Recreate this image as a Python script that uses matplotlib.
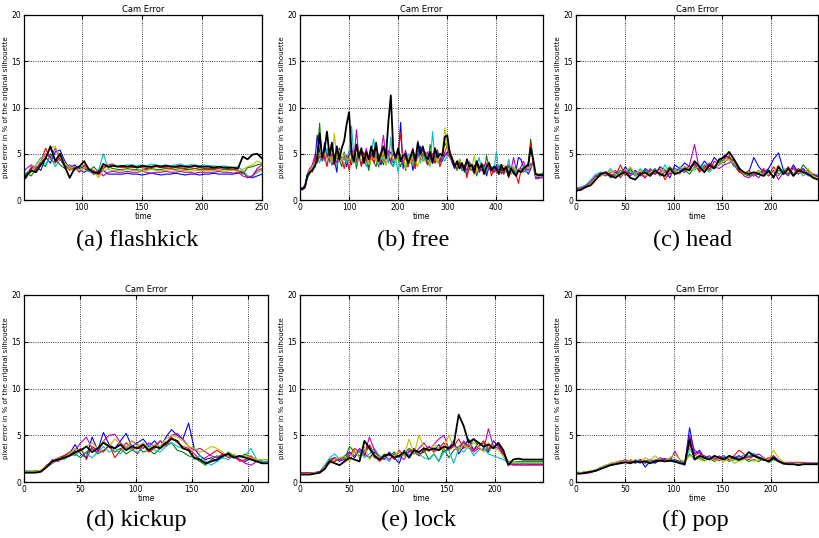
import numpy as np
import matplotlib
matplotlib.use("Agg")
import matplotlib.pyplot as plt

# colours in the order the curves were drawn
colors = ["b", "g", "r", "c", "m", "y", "k"]

# ---------------- (a) flashkick, frames 50..250 ----------------
flashkick_range = (50, 250)
flashkick_b = [2.0, 2.8, 3.4, 3.6, 3.2, 4.6, 4.0, 5.2, 5.4, 4.2, 3.4, 3.8, 3.4, 3.6, 3.2, 2.8, 2.9, 3.2, 2.8, 2.8,
               2.8, 2.8, 2.9, 2.8, 2.8, 2.7, 2.8, 2.9, 2.8, 2.7, 2.8, 2.8, 2.9, 2.8, 2.7, 2.8, 2.8, 2.7, 2.8, 2.8,
               2.9, 2.8, 2.8, 2.8, 2.8, 2.9, 3.0, 2.5, 2.4, 2.6, 2.8]
flashkick_g = [1.9, 2.9, 2.6, 3.4, 4.0, 3.6, 5.0, 4.4, 3.8, 3.4, 3.6, 3.2, 3.7, 3.4, 3.1, 3.6, 3.0, 3.6, 3.6, 3.4,
               3.3, 3.3, 3.4, 3.3, 3.3, 3.2, 3.3, 3.4, 3.3, 3.3, 3.4, 3.3, 3.3, 3.4, 3.3, 3.3, 3.4, 3.3, 3.3, 3.3,
               3.3, 3.2, 3.3, 3.3, 3.3, 3.2, 2.8, 3.5, 3.6, 3.8, 3.9]
flashkick_r = [2.2, 2.4, 3.6, 3.2, 4.2, 5.6, 4.4, 4.0, 4.6, 3.8, 3.2, 3.6, 3.0, 3.8, 3.4, 3.2, 2.7, 3.4, 3.8, 3.9,
               3.6, 3.5, 3.6, 3.5, 3.6, 3.5, 3.4, 3.5, 3.6, 3.5, 3.5, 3.4, 3.5, 3.5, 3.4, 3.5, 3.4, 3.5, 3.4, 3.4,
               3.4, 3.4, 3.5, 3.4, 3.3, 3.2, 3.0, 2.5, 2.6, 3.2, 3.4]
flashkick_c = [2.4, 3.0, 3.2, 3.8, 4.6, 3.8, 4.8, 3.6, 4.4, 3.8, 3.6, 3.4, 3.6, 3.0, 3.2, 2.8, 3.2, 5.0, 3.4, 3.8,
               3.7, 3.7, 3.8, 3.8, 3.7, 3.8, 3.7, 3.9, 3.8, 3.7, 3.8, 3.7, 3.8, 3.9, 3.7, 3.8, 3.8, 3.7, 3.8, 3.7,
               3.7, 3.6, 3.7, 3.6, 3.5, 3.6, 3.2, 2.6, 2.5, 3.0, 3.2]
flashkick_m = [2.8, 3.4, 3.8, 3.4, 3.8, 5.0, 4.6, 5.6, 4.4, 3.6, 3.8, 3.5, 3.2, 3.0, 3.4, 2.8, 3.2, 2.6, 3.0, 3.1,
               3.0, 3.0, 3.1, 3.0, 3.0, 3.1, 3.0, 2.9, 3.0, 3.0, 3.1, 3.0, 3.0, 3.1, 3.0, 3.0, 2.9, 3.0, 3.0, 3.0,
               3.0, 3.1, 3.0, 3.0, 2.9, 3.0, 2.6, 2.4, 2.6, 3.4, 3.8]
flashkick_y = [2.0, 2.6, 3.0, 3.8, 4.2, 4.8, 5.6, 5.8, 4.6, 4.0, 3.4, 3.6, 3.2, 3.5, 3.4, 3.0, 2.4, 3.2, 3.3, 3.2,
               3.2, 3.2, 3.3, 3.2, 3.2, 3.1, 3.2, 3.3, 3.2, 3.2, 3.2, 3.3, 3.2, 3.2, 3.2, 3.1, 3.2, 3.2, 3.2, 3.2,
               3.2, 3.2, 3.1, 3.2, 3.2, 3.1, 3.3, 3.6, 3.8, 4.2, 4.0]
flashkick_k = [1.8, 2.6, 3.2, 3.0, 3.8, 4.5, 5.8, 4.2, 5.0, 3.6, 2.4, 3.4, 3.6, 4.2, 3.3, 3.0, 2.9, 3.9, 3.6, 3.7,
               3.6, 3.7, 3.6, 3.7, 3.5, 3.7, 3.6, 3.6, 3.7, 3.6, 3.7, 3.6, 3.6, 3.7, 3.6, 3.6, 3.7, 3.6, 3.6, 3.6,
               3.5, 3.6, 3.5, 3.5, 3.5, 3.4, 4.7, 4.4, 4.9, 5.0, 4.5]

# ---------------- (b) free, frames 0..495 ----------------
free_range = (0, 495)
free_b = [1.1, 1.1, 1.3, 2.4, 3.0, 3.4, 4.0, 7.0, 5.2, 4.4, 6.2, 4.6, 5.0, 3.8, 4.4, 3.0, 5.6, 4.2, 4.8, 3.6,
          4.8, 5.6, 4.0, 4.4, 5.2, 3.8, 4.6, 5.0, 3.6, 4.8, 5.4, 4.2, 4.6, 3.8, 5.0, 4.4, 4.8, 5.2, 4.0, 4.6,
          4.6, 8.4, 3.4, 5.2, 3.6, 4.8, 3.2, 4.4, 5.0, 5.8, 4.2, 4.8, 3.8, 5.2, 4.4, 4.0, 5.0, 4.6, 4.2, 4.8,
          5.2, 4.8, 4.0, 3.4, 3.8, 4.2, 3.2, 3.6, 2.8, 3.4, 3.6, 3.2, 4.0, 3.0, 3.4, 3.8, 2.6, 3.6, 3.2, 3.0,
          3.8, 3.2, 3.4, 2.8, 3.6, 3.0, 3.4, 2.8, 3.2, 4.6, 4.4, 3.6, 3.2, 2.8, 3.4, 4.2, 2.4, 2.4, 2.5, 2.5]
free_g = [1.2, 1.3, 1.5, 2.8, 3.2, 3.6, 4.2, 4.8, 8.3, 4.4, 4.6, 5.4, 4.2, 5.0, 3.8, 4.8, 4.4, 3.6, 5.2, 4.0,
          4.6, 3.8, 5.2, 3.4, 4.8, 5.4, 4.0, 4.4, 3.2, 4.6, 4.2, 3.6, 5.0, 4.4, 3.8, 5.2, 4.6, 4.0, 3.6, 4.8,
          4.4, 3.6, 4.8, 3.2, 4.6, 4.0, 5.0, 3.4, 6.4, 4.6, 5.0, 4.4, 3.8, 6.0, 4.6, 4.2, 5.4, 4.0, 4.8, 6.2,
          5.6, 4.6, 4.2, 3.8, 3.2, 4.4, 3.6, 3.0, 4.2, 3.4, 3.2, 3.8, 2.6, 3.6, 4.0, 3.0, 4.8, 3.4, 3.2, 3.6,
          3.2, 3.8, 2.8, 3.4, 3.0, 3.6, 2.8, 3.4, 3.0, 3.2, 3.4, 3.2, 3.6, 4.0, 6.6, 4.2, 2.8, 2.8, 2.8, 2.9]
free_r = [1.3, 1.3, 1.6, 2.6, 3.4, 3.0, 4.4, 4.0, 5.0, 4.2, 4.8, 3.6, 5.4, 4.4, 3.8, 5.0, 4.2, 4.6, 3.4, 4.8,
          3.2, 4.6, 5.4, 4.0, 4.8, 3.6, 5.2, 4.4, 3.8, 5.0, 4.0, 4.8, 3.6, 4.4, 5.2, 3.8, 4.6, 4.2, 5.0, 4.4,
          5.2, 7.2, 4.0, 4.6, 3.6, 4.8, 4.2, 3.4, 5.0, 4.4, 4.6, 5.2, 3.8, 4.4, 5.0, 4.0, 4.8, 3.6, 4.4, 5.2,
          5.8, 5.4, 4.6, 3.8, 3.4, 4.0, 3.2, 3.8, 2.4, 3.6, 3.4, 2.8, 3.6, 3.2, 4.0, 3.4, 3.0, 3.8, 2.6, 3.4,
          3.0, 3.6, 3.2, 2.8, 3.4, 2.4, 3.2, 3.6, 2.8, 1.8, 3.2, 3.0, 3.4, 3.6, 6.2, 3.8, 2.6, 2.6, 2.6, 2.6]
free_c = [1.2, 1.2, 1.4, 2.4, 2.8, 3.4, 3.8, 4.6, 4.0, 5.0, 4.2, 5.6, 4.0, 4.8, 4.4, 3.6, 5.0, 4.2, 4.6, 4.0,
          5.4, 8.0, 4.4, 3.8, 5.0, 4.2, 4.8, 3.6, 4.6, 5.2, 6.6, 4.4, 3.8, 5.0, 4.2, 5.6, 4.0, 6.8, 3.6, 4.4,
          3.0, 4.8, 4.2, 3.6, 5.0, 4.4, 3.8, 4.6, 5.2, 4.0, 4.8, 4.2, 5.0, 3.6, 7.4, 4.4, 4.0, 5.0, 4.6, 4.2,
          4.8, 5.0, 4.4, 3.8, 3.6, 4.4, 3.2, 3.6, 3.0, 4.2, 3.6, 3.2, 3.8, 4.6, 3.2, 3.6, 3.0, 4.0, 3.4, 3.2,
          5.2, 3.0, 3.6, 3.4, 3.0, 4.4, 3.2, 3.6, 2.8, 3.4, 3.2, 3.6, 3.0, 3.4, 4.0, 3.6, 2.6, 2.6, 2.7, 2.7]
free_m = [1.3, 1.3, 1.5, 2.8, 3.4, 3.8, 4.8, 4.2, 4.6, 5.2, 4.4, 5.0, 4.2, 5.8, 4.6, 4.0, 5.4, 4.2, 5.0, 4.6,
          4.8, 5.4, 4.4, 7.6, 4.6, 5.2, 4.0, 5.6, 4.4, 5.0, 4.6, 5.8, 4.2, 5.2, 7.0, 4.6, 5.4, 4.0, 5.0, 4.4,
          5.2, 4.6, 4.0, 5.4, 3.8, 4.8, 5.6, 4.2, 5.0, 4.6, 5.4, 4.8, 5.2, 4.4, 5.0, 4.6, 5.4, 4.2, 5.0, 4.8,
          5.0, 4.6, 4.4, 4.0, 3.6, 4.2, 3.4, 3.8, 3.2, 4.0, 3.8, 3.4, 4.2, 3.6, 3.2, 3.8, 4.0, 3.4, 3.6, 3.0,
          3.6, 3.2, 3.8, 3.0, 3.4, 3.8, 3.2, 4.6, 3.4, 3.0, 3.6, 4.2, 3.4, 3.2, 3.8, 4.0, 2.3, 2.3, 2.4, 2.4]
free_y = [1.2, 1.2, 1.4, 2.6, 3.2, 3.6, 4.0, 4.4, 5.0, 4.6, 5.2, 4.4, 4.8, 4.0, 7.2, 4.6, 5.4, 4.2, 5.0, 4.4,
          4.4, 5.2, 4.0, 4.8, 5.4, 4.2, 4.6, 5.0, 3.8, 4.4, 5.0, 4.2, 4.8, 4.4, 5.2, 3.8, 4.6, 5.0, 4.4, 4.2,
          4.8, 4.2, 5.0, 3.4, 4.6, 4.0, 5.2, 4.4, 3.6, 4.8, 4.2, 5.0, 4.4, 3.8, 4.6, 5.4, 4.0, 4.8, 5.2, 7.8,
          5.6, 4.8, 4.2, 4.0, 3.6, 4.4, 3.8, 3.2, 4.2, 3.6, 3.4, 4.8, 3.2, 3.8, 3.4, 3.0, 3.8, 4.2, 3.2, 3.6,
          3.4, 3.0, 3.6, 3.8, 3.2, 3.4, 2.8, 3.6, 3.2, 3.4, 3.0, 3.4, 3.8, 3.4, 3.6, 3.8, 2.6, 2.6, 2.6, 2.6]
free_k = [1.2, 1.2, 1.4, 2.6, 3.0, 3.2, 3.6, 4.4, 7.2, 4.6, 5.4, 7.4, 4.8, 6.2, 4.0, 5.8, 4.4, 5.6, 6.4, 8.2,
          9.5, 5.0, 4.2, 6.0, 4.6, 5.6, 4.0, 5.2, 4.4, 5.8, 4.6, 6.2, 4.2, 5.0, 5.8, 4.6, 8.4, 11.3, 5.4, 4.6,
          5.6, 4.2, 4.8, 5.0, 4.0, 4.6, 5.4, 4.2, 6.2, 5.0, 5.8, 4.8, 4.4, 5.2, 4.0, 5.6, 4.6, 5.0, 4.8, 6.8,
          7.0, 5.0, 4.4, 3.6, 4.2, 3.4, 4.0, 3.2, 4.4, 3.6, 3.8, 3.0, 4.2, 3.4, 3.8, 2.8, 3.6, 4.0, 3.2, 3.6,
          3.4, 2.8, 3.8, 3.2, 3.6, 2.6, 3.4, 3.0, 2.6, 3.2, 3.0, 3.4, 3.6, 3.8, 5.6, 4.4, 2.8, 2.7, 2.7, 2.7]

# ---------------- (c) head, frames 0..248 ----------------
head_range = (0, 248)
head_b = [1.2, 1.3, 1.6, 1.8, 2.4, 3.0, 2.8, 2.6, 3.0, 2.6, 3.6, 2.8, 3.2, 2.6, 3.4, 3.0, 2.8, 3.6, 3.2, 2.4,
          3.8, 3.4, 4.0, 3.6, 3.8, 3.4, 4.2, 3.6, 4.6, 4.0, 4.8, 4.6, 3.8, 3.2, 2.8, 3.0, 4.6, 3.6, 3.0, 3.4,
          4.4, 5.1, 3.2, 2.8, 3.8, 3.0, 3.4, 2.8, 2.6, 2.6]
head_g = [1.1, 1.2, 1.5, 1.8, 2.6, 2.8, 3.0, 2.4, 2.8, 3.2, 2.8, 3.4, 2.6, 3.0, 3.2, 2.8, 3.4, 2.6, 3.0, 3.6,
          3.0, 3.4, 3.2, 2.8, 3.6, 3.2, 3.8, 3.4, 3.6, 4.2, 4.0, 4.6, 4.2, 3.2, 2.8, 2.6, 2.8, 3.2, 2.8, 3.0,
          2.6, 3.2, 3.0, 2.8, 3.4, 2.8, 3.8, 3.2, 2.6, 2.6]
head_r = [1.1, 1.2, 1.6, 1.8, 2.4, 2.6, 3.0, 2.8, 2.6, 3.8, 2.6, 3.2, 2.8, 3.0, 2.4, 3.2, 2.8, 3.4, 2.2, 3.0,
          3.2, 2.8, 3.6, 3.4, 4.0, 3.0, 3.6, 3.2, 4.2, 3.8, 4.4, 4.8, 3.8, 3.0, 2.8, 3.2, 2.6, 2.8, 3.4, 2.6,
          3.6, 2.8, 3.0, 3.6, 2.8, 3.4, 3.0, 3.2, 2.8, 2.5]
head_c = [1.3, 1.4, 1.6, 2.2, 2.8, 3.0, 2.8, 3.4, 2.6, 3.0, 2.8, 3.2, 2.6, 3.4, 2.8, 3.0, 3.4, 2.6, 3.8, 3.0,
          2.8, 3.6, 3.0, 3.4, 3.2, 3.8, 3.4, 3.0, 3.6, 3.8, 4.2, 4.4, 3.6, 3.4, 3.0, 2.8, 2.6, 3.0, 2.8, 3.2,
          3.0, 2.6, 3.4, 3.2, 2.8, 3.2, 2.6, 3.0, 2.8, 2.7]
head_m = [1.2, 1.3, 1.5, 2.0, 2.6, 2.8, 2.6, 3.0, 3.2, 2.4, 3.2, 2.6, 3.0, 2.8, 2.4, 3.4, 2.8, 3.0, 3.2, 2.8,
          3.4, 3.2, 3.0, 3.8, 6.0, 3.2, 3.4, 4.0, 3.6, 3.4, 3.8, 4.0, 4.4, 3.6, 2.6, 2.4, 2.8, 2.4, 3.2, 2.6,
          3.2, 2.2, 3.0, 2.6, 3.6, 2.8, 3.2, 2.6, 2.8, 2.6]
head_y = [1.1, 1.2, 1.4, 1.8, 2.4, 2.6, 2.8, 3.2, 2.8, 2.6, 3.0, 3.6, 2.8, 3.2, 2.6, 3.0, 3.2, 2.8, 3.4, 3.0,
          3.2, 2.8, 3.6, 3.2, 3.4, 3.6, 3.2, 3.8, 3.4, 4.0, 4.2, 4.4, 4.0, 3.4, 2.8, 3.0, 2.8, 3.2, 2.6, 2.8,
          3.0, 3.8, 2.8, 3.2, 2.6, 3.0, 2.8, 3.4, 2.6, 2.3]
head_k = [1.0, 1.1, 1.4, 1.6, 2.2, 2.8, 3.0, 2.6, 2.4, 2.8, 3.0, 2.4, 2.2, 2.8, 3.0, 2.6, 3.2, 2.8, 2.6, 3.4,
          2.8, 3.0, 3.4, 3.2, 4.2, 3.6, 3.0, 3.8, 3.4, 4.4, 4.6, 5.2, 4.4, 3.4, 3.0, 2.8, 3.0, 2.8, 2.6, 3.2,
          2.4, 3.6, 2.8, 3.4, 2.6, 3.2, 3.0, 2.8, 2.4, 2.2]

# ---------------- (d) kickup, frames 0..218 ----------------
kickup_range = (0, 218)
kickup_b = [1.1, 1.1, 1.1, 1.2, 1.6, 2.0, 2.4, 2.8, 3.0, 4.0, 3.0, 2.6, 4.8, 3.4, 5.3, 4.0, 3.6, 4.4, 5.2, 3.8,
            4.2, 4.6, 3.8, 4.4, 3.6, 4.8, 5.6, 5.0, 4.6, 6.3, 3.6, 2.8, 2.4, 2.6, 2.2, 2.8, 3.0, 2.8, 2.4, 2.2,
            2.6, 2.4, 2.2, 2.2]
kickup_g = [1.1, 1.1, 1.2, 1.2, 1.8, 2.2, 2.6, 2.4, 2.8, 3.0, 2.6, 3.2, 3.6, 3.0, 3.4, 3.8, 3.2, 3.6, 3.0, 3.4,
            3.8, 3.2, 3.4, 3.0, 3.6, 4.0, 4.2, 3.4, 3.2, 2.8, 2.6, 2.2, 1.8, 2.4, 2.8, 2.6, 3.2, 2.8, 2.6, 3.0,
            2.6, 2.4, 2.2, 2.2]
kickup_r = [1.0, 1.0, 1.1, 1.2, 1.8, 2.2, 2.6, 2.8, 3.2, 3.0, 3.6, 2.4, 3.8, 3.4, 3.2, 4.0, 2.6, 3.4, 4.2, 3.6,
            3.0, 4.0, 3.2, 3.6, 4.4, 3.8, 4.8, 4.2, 3.8, 3.6, 3.0, 2.4, 2.6, 3.0, 3.4, 3.0, 2.6, 2.8, 2.2, 2.4,
            2.8, 2.2, 2.0, 2.0]
kickup_c = [1.2, 1.2, 1.1, 1.2, 1.7, 2.0, 2.6, 2.4, 3.0, 2.8, 3.4, 3.0, 2.6, 3.2, 3.8, 3.2, 3.6, 3.0, 3.8, 3.4,
            3.2, 3.6, 4.0, 3.4, 3.2, 3.8, 4.2, 3.8, 3.6, 3.4, 2.4, 2.8, 2.2, 1.8, 2.2, 2.6, 2.4, 2.8, 2.6, 2.8,
            3.6, 2.4, 2.2, 2.2]
kickup_m = [1.1, 1.0, 1.1, 1.2, 1.6, 2.4, 2.2, 2.6, 2.8, 3.4, 4.2, 4.8, 3.6, 3.2, 4.4, 5.0, 5.1, 4.2, 3.6, 4.4,
            4.0, 3.6, 4.2, 3.8, 4.4, 4.0, 5.0, 5.2, 4.6, 3.8, 3.4, 3.6, 3.2, 2.8, 2.6, 3.0, 2.8, 2.6, 2.4, 2.0,
            1.8, 2.2, 2.0, 2.0]
kickup_y = [1.1, 1.1, 1.1, 1.3, 1.7, 2.0, 2.6, 2.6, 3.0, 3.6, 3.2, 3.8, 4.2, 3.6, 4.4, 3.8, 4.6, 4.0, 3.6, 4.4,
            3.8, 4.2, 3.6, 4.0, 3.8, 4.6, 5.0, 4.8, 4.4, 3.8, 3.6, 3.2, 3.4, 3.8, 3.6, 3.2, 2.8, 3.0, 2.6, 2.8,
            2.6, 2.4, 2.4, 2.4]
kickup_k = [1.0, 1.0, 1.0, 1.1, 1.6, 2.2, 2.4, 2.6, 2.8, 3.2, 3.4, 3.8, 3.2, 3.6, 4.2, 3.8, 3.6, 4.0, 3.4, 3.8,
            3.6, 4.0, 3.4, 3.8, 3.6, 4.2, 4.6, 4.4, 3.6, 3.4, 2.6, 2.4, 2.0, 2.2, 2.4, 2.8, 3.0, 2.6, 2.8, 2.6,
            2.4, 2.2, 2.0, 2.0]

# ---------------- (e) lock, frames 0..249 ----------------
lock_range = (0, 249)
lock_b = [0.8, 0.8, 0.9, 0.9, 1.0, 1.6, 2.4, 2.6, 2.2, 2.8, 3.2, 2.6, 3.4, 3.0, 2.6, 3.2, 2.8, 2.4, 3.2, 2.6,
          2.0, 3.4, 2.8, 3.6, 3.0, 3.2, 3.8, 3.4, 4.0, 3.2, 3.6, 4.4, 3.0, 3.8, 4.6, 3.4, 4.2, 3.8, 3.2, 4.4,
          3.8, 2.8, 2.0, 1.9, 1.9, 2.0, 1.9, 1.9, 1.9, 1.9]
lock_g = [0.9, 0.9, 0.9, 1.0, 1.1, 1.6, 2.4, 2.2, 2.6, 2.4, 3.8, 3.2, 2.8, 3.4, 3.8, 2.6, 2.4, 3.0, 2.8, 3.2,
          2.6, 3.0, 3.6, 3.2, 2.8, 3.4, 2.4, 3.0, 2.2, 3.6, 2.6, 3.4, 3.8, 4.2, 3.6, 4.6, 3.8, 4.2, 3.4, 3.8,
          4.0, 3.2, 2.2, 2.1, 2.2, 2.2, 2.2, 2.2, 2.2, 2.2]
lock_r = [1.0, 1.0, 0.9, 1.0, 1.1, 1.8, 2.4, 2.2, 2.6, 2.4, 2.8, 3.6, 3.2, 2.8, 4.0, 3.0, 2.2, 2.6, 3.0, 2.4,
          3.4, 2.8, 3.2, 3.6, 2.8, 3.4, 3.8, 3.2, 3.6, 4.2, 3.4, 3.8, 4.6, 3.6, 4.0, 3.4, 3.8, 4.4, 3.6, 3.8,
          4.0, 3.0, 2.0, 1.9, 1.9, 1.9, 1.9, 1.9, 1.9, 1.9]
lock_c = [0.9, 0.9, 1.0, 1.0, 1.1, 1.8, 2.6, 3.0, 2.4, 2.6, 3.0, 2.8, 3.4, 2.6, 3.0, 3.6, 2.8, 2.6, 2.2, 3.0,
          2.6, 3.2, 2.8, 3.4, 3.0, 2.6, 2.4, 3.0, 2.2, 3.2, 3.4, 2.0, 3.6, 3.2, 3.8, 2.8, 3.4, 3.6, 3.0, 2.8,
          2.6, 2.4, 2.1, 2.0, 2.0, 2.0, 2.0, 2.0, 2.0, 2.0]
lock_m = [1.0, 1.0, 1.0, 1.0, 1.1, 1.6, 2.2, 2.6, 2.4, 2.2, 3.2, 2.8, 3.6, 3.0, 4.8, 3.4, 2.6, 2.8, 2.4, 3.0,
          2.8, 2.4, 3.4, 3.0, 3.6, 4.2, 3.4, 4.0, 4.6, 5.0, 3.6, 4.0, 3.4, 4.4, 3.8, 3.2, 3.6, 3.4, 5.7, 3.8,
          3.6, 3.2, 1.9, 1.8, 1.8, 1.8, 1.8, 1.8, 1.8, 1.8]
lock_y = [0.9, 0.9, 0.9, 1.0, 1.0, 1.6, 2.0, 2.4, 2.6, 2.8, 2.2, 3.4, 2.6, 3.8, 2.4, 3.0, 2.6, 2.8, 3.0, 2.8,
          3.2, 2.8, 4.6, 3.0, 5.0, 3.6, 3.2, 4.0, 3.6, 3.4, 5.0, 3.8, 3.4, 4.0, 3.6, 4.2, 3.8, 3.2, 4.2, 3.6,
          3.4, 2.8, 2.1, 2.1, 2.1, 2.1, 2.1, 2.1, 2.1, 2.1]
lock_k = [0.8, 0.8, 0.8, 0.9, 1.0, 1.4, 2.2, 2.0, 1.8, 2.2, 2.6, 2.4, 2.2, 4.4, 3.6, 2.8, 2.4, 2.8, 3.0, 2.6,
          2.8, 3.2, 2.6, 3.4, 3.2, 3.6, 3.4, 3.6, 3.4, 3.8, 3.6, 4.0, 7.2, 6.0, 4.2, 4.6, 4.2, 3.8, 4.0, 3.6,
          4.2, 3.4, 1.8, 2.4, 2.5, 2.4, 2.4, 2.4, 2.4, 2.4]

# ---------------- (f) pop, frames 0..248 ----------------
pop_range = (0, 248)
pop_b = [1.0, 1.0, 1.0, 1.1, 1.3, 1.5, 1.7, 1.9, 2.0, 2.2, 2.1, 2.3, 2.0, 2.4, 1.6, 2.2, 2.0, 2.4, 2.5, 2.2,
         2.4, 2.2, 1.8, 5.8, 3.0, 3.4, 2.6, 2.8, 2.4, 2.6, 2.8, 2.4, 2.6, 2.8, 2.5, 2.7, 2.9, 2.6, 2.3, 2.4,
         2.8, 2.3, 2.0, 2.0, 2.0, 1.9, 2.0, 2.0, 2.0, 2.0]
pop_g = [0.9, 1.0, 1.0, 1.1, 1.2, 1.4, 1.7, 1.8, 2.0, 2.1, 2.2, 2.1, 2.3, 2.2, 2.0, 2.3, 2.1, 2.4, 2.2, 2.3,
         2.1, 2.2, 2.0, 3.0, 2.4, 2.6, 2.3, 2.5, 2.2, 2.4, 2.6, 2.2, 2.4, 2.3, 2.5, 2.2, 2.4, 2.2, 2.5, 2.1,
         2.4, 2.2, 1.9, 1.9, 1.9, 1.9, 1.9, 1.9, 1.9, 1.9]
pop_r = [1.0, 1.0, 1.1, 1.1, 1.2, 1.5, 1.7, 1.9, 2.1, 2.0, 2.2, 2.3, 2.1, 2.4, 2.2, 2.1, 2.3, 2.2, 2.4, 2.5,
         2.3, 2.1, 1.9, 4.0, 2.8, 3.2, 2.6, 2.4, 2.6, 2.3, 2.6, 2.4, 2.8, 3.4, 3.0, 2.6, 2.8, 2.5, 2.4, 2.6,
         2.6, 2.2, 2.0, 2.0, 1.9, 2.0, 2.0, 2.0, 2.0, 2.0]
pop_c = [1.1, 1.0, 1.1, 1.0, 1.3, 1.6, 1.8, 1.9, 2.0, 2.1, 2.2, 2.0, 2.4, 2.2, 2.3, 2.1, 2.4, 2.3, 2.2, 2.6,
         2.3, 2.1, 2.0, 3.6, 2.6, 2.8, 2.5, 2.7, 2.4, 2.6, 2.8, 2.5, 2.7, 2.6, 2.9, 2.8, 3.1, 2.7, 2.5, 2.4,
         2.7, 2.2, 2.0, 2.0, 2.0, 2.0, 2.0, 2.0, 2.0, 2.0]
pop_m = [0.9, 0.9, 0.9, 1.0, 1.2, 1.5, 1.6, 2.0, 2.1, 2.2, 2.4, 2.2, 2.1, 2.3, 2.2, 2.4, 2.2, 2.6, 2.4, 2.2,
         3.3, 2.4, 2.0, 5.0, 3.4, 3.0, 2.8, 2.6, 2.4, 2.8, 2.5, 2.7, 2.5, 2.8, 2.6, 2.4, 2.8, 3.0, 2.6, 2.4,
         2.8, 2.3, 2.1, 2.1, 2.1, 2.1, 2.1, 2.0, 2.0, 2.0]
pop_y = [1.0, 1.0, 1.1, 1.2, 1.3, 1.5, 1.8, 2.0, 2.1, 2.3, 2.1, 2.4, 2.2, 2.0, 2.6, 2.3, 2.8, 2.4, 2.2, 2.6,
         3.0, 2.4, 2.2, 2.8, 2.6, 2.4, 2.2, 2.6, 2.3, 2.4, 2.2, 2.6, 2.0, 2.2, 2.4, 2.6, 2.2, 2.4, 2.6, 2.3,
         3.4, 2.6, 2.1, 2.0, 2.0, 2.0, 2.0, 1.9, 1.9, 1.9]
pop_k = [0.9, 0.9, 1.0, 1.1, 1.2, 1.4, 1.6, 1.8, 1.9, 2.0, 2.1, 2.0, 2.2, 2.1, 2.2, 2.0, 2.2, 2.3, 2.2, 2.3,
         2.2, 2.0, 1.9, 4.6, 2.4, 2.8, 2.6, 2.4, 2.8, 2.6, 2.4, 2.8, 2.6, 2.4, 2.6, 3.2, 2.8, 2.6, 2.4, 2.2,
         2.6, 2.2, 2.0, 1.9, 1.9, 1.8, 1.9, 1.9, 1.9, 1.9]

captions = ["(a) flashkick", "(b) free", "(c) head", "(d) kickup", "(e) lock", "(f) pop"]

panels = [
    (flashkick_range, (52, 250), [100, 150, 200, 250],
     [flashkick_b, flashkick_g, flashkick_r, flashkick_c, flashkick_m, flashkick_y, flashkick_k]),
    (free_range, (0, 495), [0, 100, 200, 300, 400],
     [free_b, free_g, free_r, free_c, free_m, free_y, free_k]),
    (head_range, (0, 248), [0, 50, 100, 150, 200],
     [head_b, head_g, head_r, head_c, head_m, head_y, head_k]),
    (kickup_range, (0, 218), [0, 50, 100, 150, 200],
     [kickup_b, kickup_g, kickup_r, kickup_c, kickup_m, kickup_y, kickup_k]),
    (lock_range, (0, 249), [0, 50, 100, 150, 200],
     [lock_b, lock_g, lock_r, lock_c, lock_m, lock_y, lock_k]),
    (pop_range, (0, 248), [0, 50, 100, 150, 200],
     [pop_b, pop_g, pop_r, pop_c, pop_m, pop_y, pop_k]),
]

# axes boxes in figure fractions (left, bottom, width, height)
W, H = 819.0, 538.0
boxes = [
    (24 / W, (H - 200) / H, 238 / W, 185 / H),
    (300 / W, (H - 200) / H, 243 / W, 185 / H),
    (576 / W, (H - 200) / H, 242 / W, 185 / H),
    (24 / W, (H - 482) / H, 244 / W, 187 / H),
    (300 / W, (H - 482) / H, 243 / W, 187 / H),
    (576 / W, (H - 482) / H, 242 / W, 187 / H),
]
caption_pos = [(137, 240), (413, 240), (693, 240), (136, 520), (418, 520), (695, 520)]

fig = plt.figure(figsize=(8.19, 5.38), dpi=100)

for (frames, xlim, xticks, series), box, cap, cpos in zip(panels, boxes, captions, caption_pos):
    ax = fig.add_axes(box)
    for col, vals in zip(colors, series):
        x = np.linspace(frames[0], frames[1], len(vals))
        lw = 1.3 if col == "k" else 0.8
        ax.plot(x, vals, color=col, linewidth=lw)
    ax.set_xlim(*xlim)
    ax.set_ylim(0, 20)
    ax.set_xticks(xticks)
    ax.set_yticks([0, 5, 10, 15, 20])
    ax.grid(True, linestyle=":", color="black", linewidth=0.6)
    ax.tick_params(direction="in", top=True, right=True, labelsize=5.5, length=3, pad=2)
    for s in ax.spines.values():
        s.set_linewidth(0.9)
    ax.set_title("Cam Error", fontsize=6, pad=2)
    ax.set_xlabel("time", fontsize=5.5, labelpad=0)
    ax.set_ylabel("pixel error in % of the original silhouette", fontsize=5, labelpad=2)
    fig.text(cpos[0] / W, 1 - cpos[1] / H, cap, ha="center", va="center",
             fontsize=17.5, family="Liberation Serif")

fig.savefig("out.png", dpi=100)
